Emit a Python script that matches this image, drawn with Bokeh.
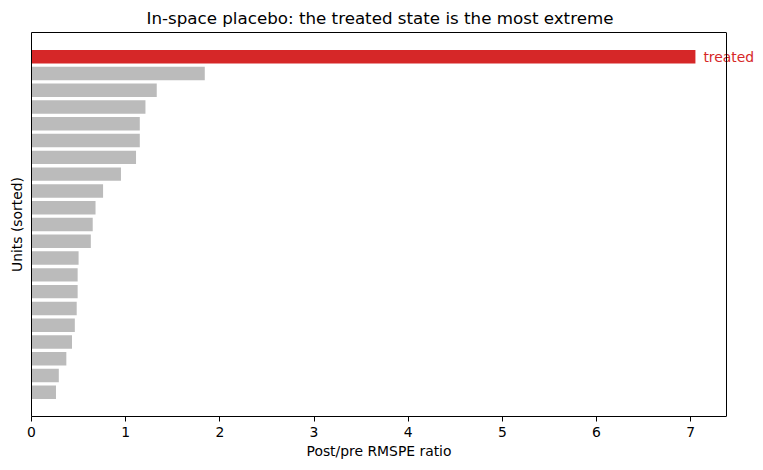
from bokeh.plotting import figure
from bokeh.models import ColumnDataSource, Range1d, FixedTicker, Label, LinearAxis, Span, Title
from bokeh.embed import file_html
from bokeh.resources import INLINE

# values sorted ascending (bottom to top), treated last
units = ["u1", "u2", "u3", "u4", "u5", "u6", "u7", "u8", "u9", "u10",
         "u11", "u12", "u13", "u14", "u15", "u16", "u17", "u18", "u19", "u20", "treated"]
ratios = [0.26, 0.29, 0.37, 0.43, 0.46, 0.48, 0.49, 0.49, 0.50, 0.63,
          0.65, 0.68, 0.76, 0.95, 1.11, 1.15, 1.15, 1.21, 1.33, 1.84, 7.05]
colors = ["#bbbbbb"] * 20 + ["#d62728"]
x_ticks = [0, 1, 2, 3, 4, 5, 6, 7]

FONT = "DejaVu Sans"
XMAX = 7.38            # right limit of the axes box
BOX_W = 695            # axes box width in px
FRAME_W = 732          # drawing area extended to the right so the label is not cut

pos = list(range(len(ratios)))
src = ColumnDataSource(dict(y=pos, right=ratios, color=colors, unit=units))

p = figure(width=763, height=470, output_backend="svg", toolbar_location=None,
           x_range=Range1d(0, XMAX * FRAME_W / BOX_W), y_range=Range1d(-1.44, 21.44),
           min_border_left=31, min_border_right=0, min_border_top=32, min_border_bottom=54)

p.hbar(y="y", left=0, right="right", height=0.8, color="color", source=src, line_color=None)

p.add_layout(Label(x=ratios[-1], y=pos[-1], text=units[-1], x_offset=8, y_offset=0,
                   text_baseline="middle", text_align="left", text_color="#d62728",
                   text_font=FONT, text_font_size="13.9px"))

p.xgrid.visible = False
p.ygrid.visible = False
p.outline_line_color = None

xa = p.below[0]
xa.bounds = (0, XMAX)
xa.ticker = FixedTicker(ticks=x_ticks)
xa.minor_tick_line_color = None
xa.major_tick_in = 0
xa.major_tick_out = 5
xa.major_tick_line_color = "black"
xa.major_label_text_font = FONT
xa.major_label_text_font_size = "13.9px"
xa.major_label_text_color = "black"
xa.axis_line_color = "black"

ya = p.left[0]
ya.ticker = FixedTicker(ticks=[])
ya.minor_tick_line_color = None
ya.major_tick_line_color = None
ya.major_label_text_font_size = "0px"
ya.axis_label = "Units (sorted)"
ya.axis_label_text_font = FONT
ya.axis_label_text_font_size = "13.9px"
ya.axis_label_text_font_style = "normal"
ya.axis_label_text_color = "black"
ya.axis_label_standoff = 7
ya.axis_line_color = "black"

# right spine
p.add_layout(Span(location=XMAX, dimension="height", line_color="black", line_width=1))

# top spine
top = LinearAxis(ticker=FixedTicker(ticks=[]), bounds=(0, XMAX), major_tick_out=0,
                 major_tick_in=0, major_label_standoff=0, major_label_text_font_size="0px",
                 minor_tick_line_color=None, axis_line_color="black")
p.add_layout(top, "above")

# chart title, centred over the axes box
p.add_layout(Title(text="In-space placebo: the treated state is the most extreme",
                   text_font=FONT, text_font_size="16.7px", text_font_style="normal",
                   text_color="black", align="left", offset=115), "above")

# x-axis label, centred under the axes box
p.add_layout(Title(text="Post/pre RMSPE ratio", text_font=FONT, text_font_size="13.9px",
                   text_font_style="normal", text_color="black", align="left",
                   offset=275, standoff=2), "below")

open("out.html", "w").write(file_html(p, INLINE))
